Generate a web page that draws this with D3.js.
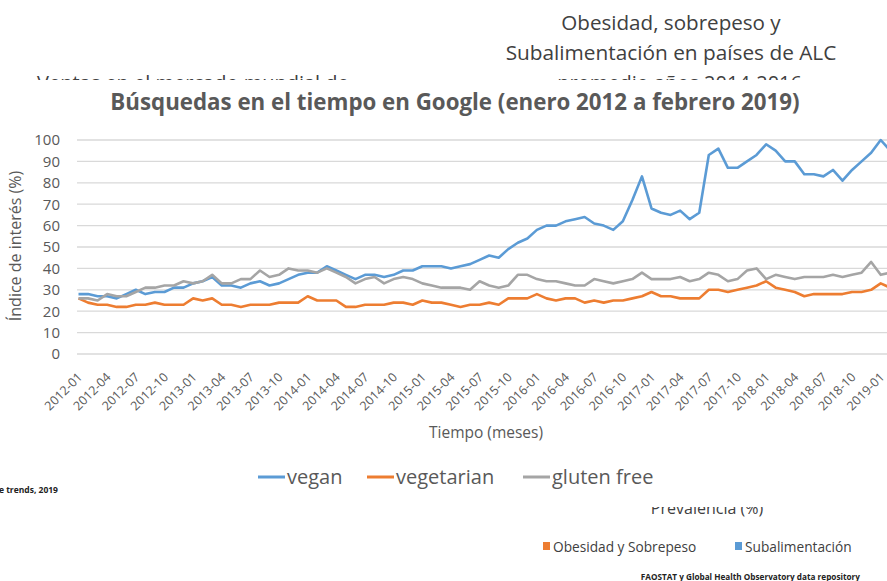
<!DOCTYPE html>
<html>
<head>
<meta charset="utf-8">
<script src="https://cdn.jsdelivr.net/npm/d3@7"></script>
<style>
  html, body { margin: 0; padding: 0; background: #fff; overflow: hidden; }
  svg { display: block; font-family: "Open Sans", Lato, sans-serif; }
</style>
</head>
<body>
<svg id="chart" width="887" height="581"></svg>
<script>
// Google trends, monthly interest 2012-01 .. 2019-02
const vegan = [28, 28, 27, 27, 26, 28, 30, 28, 29, 29, 31, 31, 33, 34, 36, 32, 32, 31, 33, 34, 32, 33, 35, 37,
  38, 38, 41, 39, 37, 35, 37, 37, 36, 37, 39, 39, 41, 41, 41, 40, 41, 42, 44, 46, 45, 49, 52, 54,
  58, 60, 60, 62, 63, 64, 61, 60, 58, 62, 72, 83, 68, 66, 65, 67, 63, 66, 93, 96, 87, 87, 90, 93,
  98, 95, 90, 90, 84, 84, 83, 86, 81, 86, 90, 94, 100, 95];
const vegetarian = [26, 24, 23, 23, 22, 22, 23, 23, 24, 23, 23, 23, 26, 25, 26, 23, 23, 22, 23, 23, 23, 24, 24, 24,
  27, 25, 25, 25, 22, 22, 23, 23, 23, 24, 24, 23, 25, 24, 24, 23, 22, 23, 23, 24, 23, 26, 26, 26,
  28, 26, 25, 26, 26, 24, 25, 24, 25, 25, 26, 27, 29, 27, 27, 26, 26, 26, 30, 30, 29, 30, 31, 32,
  34, 31, 30, 29, 27, 28, 28, 28, 28, 29, 29, 30, 33, 31];
const glutenFree = [26, 26, 25, 28, 27, 27, 29, 31, 31, 32, 32, 34, 33, 34, 37, 33, 33, 35, 35, 39, 36, 37, 40, 39,
  39, 38, 40, 38, 36, 33, 35, 36, 33, 35, 36, 35, 33, 32, 31, 31, 31, 30, 34, 32, 31, 32, 37, 37,
  35, 34, 34, 33, 32, 32, 35, 34, 33, 34, 35, 38, 35, 35, 35, 36, 34, 35, 38, 37, 34, 35, 39, 40,
  35, 37, 36, 35, 36, 36, 36, 37, 36, 37, 38, 43, 37, 38];

const tickLabels = ["2012-01", "2012-04", "2012-07", "2012-10", "2013-01", "2013-04", "2013-07", "2013-10",
  "2014-01", "2014-04", "2014-07", "2014-10", "2015-01", "2015-04", "2015-07", "2015-10",
  "2016-01", "2016-04", "2016-07", "2016-10", "2017-01", "2017-04", "2017-07", "2017-10",
  "2018-01", "2018-04", "2018-07", "2018-10", "2019-01"];
const yTicks = [0, 10, 20, 30, 40, 50, 60, 70, 80, 90, 100];
const seriesNames = ["vegan", "vegetarian", "gluten free"];
const seriesColors = ["#5B9BD5", "#ED7D31", "#A5A5A5"];

const months = d3.utcMonth.range(new Date(Date.UTC(2012, 0, 1)), new Date(Date.UTC(2019, 2, 1)))
  .map(d3.utcFormat("%Y-%m"));
const series = [vegan, vegetarian, glutenFree];

const svg = d3.select("#chart");
const txt = "#595959";
const slideTxt = "#404040";

// slide texts behind the chart
svg.append("text").attr("x", 671).attr("y", 30).attr("text-anchor", "middle")
  .attr("font-size", 20.6).attr("fill", slideTxt).text("Obesidad, sobrepeso y");
svg.append("text").attr("x", 671).attr("y", 60).attr("text-anchor", "middle")
  .attr("font-size", 20.8).attr("fill", slideTxt).text("Subalimentación en países de ALC");
svg.append("text").attr("x", 802).attr("y", 90).attr("text-anchor", "end")
  .attr("font-size", 20).attr("fill", slideTxt).text("promedio años 2014-2016");
svg.append("text").attr("x", 37).attr("y", 90)
  .attr("font-size", 20).attr("fill", slideTxt).text("Ventas en el mercado mundial de");
svg.append("text").attr("x", 707).attr("y", 514).attr("text-anchor", "middle")
  .attr("font-size", 16).attr("fill", slideTxt).text("Prevalencia (%)");

// chart box
svg.append("rect").attr("x", 0).attr("y", 80).attr("width", 887).attr("height", 427).attr("fill", "#fff");

const x = d3.scalePoint().domain(months).range([78.5, 890.25]);
const y = d3.scaleLinear().domain([0, 100]).range([354, 140]);

// gridlines
svg.append("g")
  .selectAll("line")
  .data(yTicks)
  .enter()
  .append("line")
  .attr("x1", 77).attr("x2", 900)
  .attr("y1", d => y(d)).attr("y2", d => y(d))
  .attr("stroke", "#d9d9d9").attr("stroke-width", 1.3);

// y axis
const yAxis = svg.append("g")
  .attr("transform", "translate(60,0)")
  .call(d3.axisLeft(y).tickValues(yTicks).tickSize(0).tickPadding(0));
yAxis.select(".domain").remove();
yAxis.selectAll("text").attr("font-size", 15).attr("fill", txt).attr("font-family", "Open Sans, sans-serif");

// x axis
const xAxis = svg.append("g")
  .attr("transform", "translate(0,354)")
  .call(d3.axisBottom(x).tickValues(tickLabels).tickSize(0));
xAxis.select(".domain").remove();
xAxis.selectAll("text")
  .attr("font-size", 12.5).attr("fill", txt).attr("font-family", "Open Sans, sans-serif")
  .attr("text-anchor", "end")
  .attr("dy", 0)
  .attr("y", 0)
  .attr("transform", "translate(4,24) rotate(-45)");

// lines
const line = d3.line().x((d, i) => x(months[i])).y(d => y(d));
svg.append("g")
  .selectAll("path")
  .data(series)
  .enter()
  .append("path")
  .attr("d", line)
  .attr("fill", "none")
  .attr("stroke", (d, i) => seriesColors[i])
  .attr("stroke-width", 2.6)
  .attr("stroke-linejoin", "round");

// titles
svg.append("text").attr("x", 455).attr("y", 110).attr("text-anchor", "middle")
  .attr("font-size", 22.3).attr("font-weight", "bold").attr("fill", txt)
  .text("Búsquedas en el tiempo en Google (enero 2012 a febrero 2019)");
svg.append("text").attr("x", 486).attr("y", 438).attr("text-anchor", "middle")
  .attr("font-size", 15.5).attr("fill", txt).text("Tiempo (meses)");
svg.append("text")
  .attr("transform", "translate(21,246) rotate(-90)")
  .attr("text-anchor", "middle")
  .attr("font-size", 16).attr("fill", txt).text("Índice de interés (%)");

// legend
const legendX = [258, 367, 523];
const legend = svg.append("g")
  .selectAll("g")
  .data(seriesNames)
  .enter()
  .append("g")
  .attr("transform", (d, i) => `translate(${legendX[i]},477)`);
legend.append("line")
  .attr("x1", 0).attr("x2", 27).attr("y1", 0).attr("y2", 0)
  .attr("stroke", (d, i) => seriesColors[i]).attr("stroke-width", 3);
legend.append("text")
  .attr("x", 29).attr("y", 7)
  .attr("font-size", 20).attr("fill", txt).text(d => d);

// slide footers in front
svg.append("text").attr("x", 58).attr("y", 493).attr("text-anchor", "end")
  .attr("font-size", 8.5).attr("font-weight", "bold").attr("fill", "#222").text("Fuente: Google trends, 2019");
const slideLegend = [["Obesidad y Sobrepeso", "#ED7D31", 543], ["Subalimentación", "#5B9BD5", 735]];
slideLegend.forEach(([name, color, lx]) => {
  svg.append("rect").attr("x", lx).attr("y", 542).attr("width", 7).attr("height", 8).attr("fill", color);
  svg.append("text").attr("x", lx + 10).attr("y", 552)
    .attr("font-size", 13.7).attr("fill", slideTxt).text(name);
});
svg.append("text").attr("x", 860).attr("y", 580).attr("text-anchor", "end")
  .attr("font-size", 8.2).attr("font-weight", "bold").attr("fill", "#222")
  .text("FAOSTAT y Global Health  Observatory data repository");
</script>
</body>
</html>
